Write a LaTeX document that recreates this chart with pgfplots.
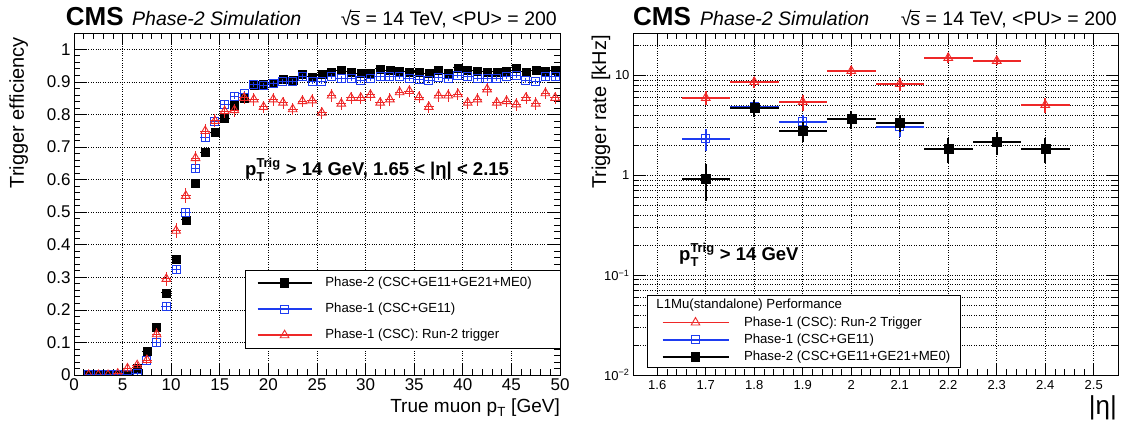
\documentclass[border=0pt]{standalone}
\usepackage{pgfplots}
\pgfplotsset{compat=1.18}
\usepackage{pgfplotstable}
\usepackage{amsmath}
\usepackage{fontspec}
\setmainfont{Liberation Sans}
\definecolor{rootred}{RGB}{238,40,40}
\definecolor{rootblue}{RGB}{30,60,240}
\newcommand\fs[1]{\fontsize{#1}{#1}\selectfont}
\newcommand\sqrts{√\kern-0.06em\rlap{\rule[0.70em]{0.5em}{0.06em}}s}

% efficiency vs true pT (1 GeV bins)
\pgfplotstableread{
x    y      ex   ey
1.5  0      0.5  0
2.5  0      0.5  0
3.5  0      0.5  0
4.5  0      0.5  0
5.5  0.003  0.5  0.003
6.5  0.022  0.5  0.006
7.5  0.073  0.5  0.010
8.5  0.148  0.5  0.012
9.5  0.252  0.5  0.013
10.5 0.355  0.5  0.014
11.5 0.476  0.5  0.014
12.5 0.589  0.5  0.014
13.5 0.683  0.5  0.013
14.5 0.744  0.5  0.012
15.5 0.788  0.5  0.011
16.5 0.829  0.5  0.010
17.5 0.851  0.5  0.010
18.5 0.890  0.5  0.009
19.5 0.892  0.5  0.009
20.5 0.897  0.5  0.009
21.5 0.909  0.5  0.008
22.5 0.905  0.5  0.008
23.5 0.922  0.5  0.008
24.5 0.915  0.5  0.008
25.5 0.922  0.5  0.008
26.5 0.931  0.5  0.008
27.5 0.935  0.5  0.008
28.5 0.931  0.5  0.008
29.5 0.926  0.5  0.008
30.5 0.928  0.5  0.008
31.5 0.940  0.5  0.008
32.5 0.936  0.5  0.008
33.5 0.933  0.5  0.008
34.5 0.931  0.5  0.008
35.5 0.931  0.5  0.008
36.5 0.926  0.5  0.008
37.5 0.936  0.5  0.008
38.5 0.926  0.5  0.008
39.5 0.943  0.5  0.008
40.5 0.936  0.5  0.008
41.5 0.933  0.5  0.008
42.5 0.931  0.5  0.008
43.5 0.931  0.5  0.008
44.5 0.933  0.5  0.008
45.5 0.943  0.5  0.008
46.5 0.931  0.5  0.008
47.5 0.935  0.5  0.008
48.5 0.933  0.5  0.008
49.5 0.936  0.5  0.008
}\effPhaseTwo

\pgfplotstableread{
x    y      ex   ey
1.5  0      0.5  0
2.5  0      0.5  0
3.5  0      0.5  0
4.5  0      0.5  0
5.5  0.002  0.5  0.002
6.5  0.005  0.5  0.004
7.5  0.043  0.5  0.008
8.5  0.100  0.5  0.010
9.5  0.209  0.5  0.012
10.5 0.324  0.5  0.013
11.5 0.499  0.5  0.014
12.5 0.635  0.5  0.013
13.5 0.729  0.5  0.012
14.5 0.778  0.5  0.011
15.5 0.831  0.5  0.010
16.5 0.856  0.5  0.010
17.5 0.863  0.5  0.009
18.5 0.892  0.5  0.009
19.5 0.889  0.5  0.009
20.5 0.895  0.5  0.008
21.5 0.900  0.5  0.008
22.5 0.902  0.5  0.008
23.5 0.915  0.5  0.008
24.5 0.902  0.5  0.008
25.5 0.900  0.5  0.008
26.5 0.917  0.5  0.008
27.5 0.909  0.5  0.008
28.5 0.911  0.5  0.008
29.5 0.904  0.5  0.008
30.5 0.911  0.5  0.008
31.5 0.915  0.5  0.008
32.5 0.915  0.5  0.008
33.5 0.917  0.5  0.008
34.5 0.911  0.5  0.008
35.5 0.906  0.5  0.008
36.5 0.904  0.5  0.008
37.5 0.913  0.5  0.008
38.5 0.911  0.5  0.008
39.5 0.919  0.5  0.008
40.5 0.915  0.5  0.008
41.5 0.911  0.5  0.008
42.5 0.911  0.5  0.008
43.5 0.911  0.5  0.008
44.5 0.917  0.5  0.008
45.5 0.919  0.5  0.008
46.5 0.904  0.5  0.008
47.5 0.902  0.5  0.008
48.5 0.915  0.5  0.008
49.5 0.915  0.5  0.008
}\effPhaseOneGE

\pgfplotstableread{
x    y      ex   ey
1.5  0      0.5  0
2.5  0      0.5  0
3.5  0      0.5  0
4.5  0.004  0.5  0.004
5.5  0.020  0.5  0.010
6.5  0.030  0.5  0.010
7.5  0.046  0.5  0.012
8.5  0.125  0.5  0.018
9.5  0.295  0.5  0.022
10.5 0.443  0.5  0.023
11.5 0.550  0.5  0.023
12.5 0.666  0.5  0.022
13.5 0.749  0.5  0.021
14.5 0.780  0.5  0.020
15.5 0.810  0.5  0.020
16.5 0.813  0.5  0.020
17.5 0.851  0.5  0.019
18.5 0.846  0.5  0.019
19.5 0.823  0.5  0.019
20.5 0.846  0.5  0.019
21.5 0.836  0.5  0.019
22.5 0.816  0.5  0.019
23.5 0.841  0.5  0.019
24.5 0.843  0.5  0.019
25.5 0.805  0.5  0.019
26.5 0.858  0.5  0.019
27.5 0.833  0.5  0.019
28.5 0.851  0.5  0.019
29.5 0.851  0.5  0.019
30.5 0.860  0.5  0.019
31.5 0.836  0.5  0.019
32.5 0.846  0.5  0.019
33.5 0.868  0.5  0.019
34.5 0.872  0.5  0.019
35.5 0.853  0.5  0.019
36.5 0.823  0.5  0.019
37.5 0.858  0.5  0.019
38.5 0.858  0.5  0.019
39.5 0.862  0.5  0.019
40.5 0.836  0.5  0.019
41.5 0.846  0.5  0.019
42.5 0.877  0.5  0.019
43.5 0.836  0.5  0.019
44.5 0.841  0.5  0.019
45.5 0.831  0.5  0.019
46.5 0.851  0.5  0.019
47.5 0.833  0.5  0.019
48.5 0.865  0.5  0.019
49.5 0.851  0.5  0.019
}\effPhaseOneCSC

% trigger rate vs |eta| (kHz)
\pgfplotstableread{
x    y     ex    ey
1.7  5.96  0.05  0.95
1.8  8.60  0.05  1.05
1.9  5.43  0.05  1.00
2.0  11.1  0.05  1.25
2.1  8.20  0.05  1.15
2.2  15.0  0.05  1.60
2.3  14.0  0.05  1.30
2.4  5.07  0.05  0.85
}\rateRunTwo

\pgfplotstableread{
x    y     ex    ey
1.7  2.32  0.05  0.56
1.8  4.84  0.05  0.85
1.9  3.43  0.05  0.60
2.0  3.67  0.05  0.70
2.1  3.05  0.05  0.65
}\ratePhaseOneGE

\pgfplotstableread{
x    y     ex    ey
1.7  0.92  0.05  0.37
1.8  4.73  0.05  0.90
1.9  2.79  0.05  0.62
2.0  3.67  0.05  0.75
2.1  3.35  0.05  0.65
2.2  1.84  0.05  0.52
2.3  2.16  0.05  0.57
2.4  1.84  0.05  0.52
}\ratePhaseTwo

\pgfplotsset{
  rootaxis/.style={
    scale only axis,
    clip marker paths=true,
    axis line style={line width=0.9pt},
    every tick/.style={black, line width=0.7pt},
    major tick length=12pt,
    minor tick length=6pt,
    grid style={dotted, black, line width=0.7pt},
    /pgf/number format/assume math mode=true,
    legend cell align=left,
  },
  errpts/.style={
    only marks, forget plot,
    error bars/.cd, x dir=both, x explicit, y dir=both, y explicit,
    error mark=none,
  },
}

\begin{document}
\begin{tikzpicture}
\useasboundingbox (0,0) rectangle (1126pt,425pt);

% ---------------- left: efficiency ----------------
\begin{axis}[rootaxis,
  at={(74pt,50pt)}, anchor=south west,
  width=486pt, height=342pt,
  xmin=0, xmax=50, ymin=0, ymax=1.05,
  xtick={0,5,10,15,20,25,30,35,40,45,50},
  ytick={0,0.1,0.2,0.3,0.4,0.5,0.6,0.7,0.8,0.9,1},
  minor x tick num=4, minor y tick num=4,
  xmajorgrids, ymajorgrids,
  ticklabel style={font=\fs{17}},
  legend style={at={(0.351,0.307)}, anchor=north west,
    draw=black, fill=white, font=\fs{13.2},
    inner xsep=12pt, inner ysep=6.5pt, row sep=13pt, column sep=13pt,
    nodes={inner sep=0pt, text height=10pt, text depth=3pt}},
  legend image code/.code={\draw[mark repeat=2, mark phase=2, #1]
    plot coordinates {(0pt,0pt) (27pt,0pt) (54pt,0pt)};},
]
\addplot[black, mark=square*, mark size=4pt, errpts,
  error bar style={line width=1pt}]
  table[x=x, y=y, x error=ex, y error=ey] {\effPhaseTwo};
\addplot[rootblue, mark=square, mark size=4pt, mark options={fill=white, line width=1pt}, errpts,
  error bar style={line width=1pt}]
  table[x=x, y=y, x error=ex, y error=ey] {\effPhaseOneGE};
\addplot[rootred, mark=triangle, mark size=5pt, mark options={fill=white, line width=0.9pt}, errpts,
  error bar style={line width=0.9pt}]
  table[x=x, y=y, x error=ex, y error=ey] {\effPhaseOneCSC};

\addlegendimage{black, line width=1.6pt, mark=square*, mark size=4pt, mark options={solid}}
\addlegendentry{\makebox[223pt][l]{Phase-2 (CSC+GE11+GE21+ME0)}}
\addlegendimage{rootblue, line width=1.6pt, mark=square, mark size=4pt, mark options={solid, fill=white, line width=1pt}}
\addlegendentry{\makebox[223pt][l]{Phase-1 (CSC+GE11)}}
\addlegendimage{rootred, line width=1.6pt, mark=triangle, mark size=5pt, mark options={solid, fill=white, line width=0.9pt}}
\addlegendentry{\makebox[223pt][l]{Phase-1 (CSC): Run-2 trigger}}
\end{axis}

% ---------------- right: rate ----------------
\begin{axis}[rootaxis, ymode=log,
  at={(633pt,50pt)}, anchor=south west,
  width=485pt, height=342pt,
  xmin=1.55, xmax=2.55, ymin=0.01, ymax=26.6,
  xtick={1.6,1.7,1.8,1.9,2,2.1,2.2,2.3,2.4,2.5},
  xticklabels={1.6,1.7,1.8,1.9,2,2.1,2.2,2.3,2.4,2.5},
  minor x tick num=4,
  ytick={0.01,0.1,1,10},
  yticklabels={10\textsuperscript{−2},10\textsuperscript{−1},1,10},
  minor ytick={0.02,0.03,0.04,0.05,0.06,0.07,0.08,0.09,0.2,0.3,0.4,0.5,0.6,0.7,0.8,0.9,2,3,4,5,6,7,8,9,20},
  xmajorgrids, ymajorgrids, yminorgrids,
  ticklabel style={font=\fs{13}},
  xticklabel style={yshift=-2pt},
  legend style={at={(0.0297,0.2333)}, anchor=north west,
    draw=black, fill=white, font=\fs{13.2},
    inner xsep=10pt, inner ysep=3.5pt, row sep=4.1pt, column sep=14.6pt,
    nodes={inner sep=0pt, text height=10pt, text depth=3pt}},
  legend image code/.code={\path (0pt,0pt); \draw[mark repeat=2, mark phase=2, #1]
    plot coordinates {(4pt,0pt) (37pt,0pt) (70pt,0pt)};},
]
\addplot[rootred, mark=triangle, mark size=5pt, mark options={fill=white, line width=0.9pt}, errpts,
  error bar style={line width=1.8pt}]
  table[x=x, y=y, x error=ex, y error=ey] {\rateRunTwo};
\addplot[rootblue, mark=square, mark size=4pt, mark options={fill=white, line width=1pt}, errpts,
  error bar style={line width=1.8pt}]
  table[x=x, y=y, x error=ex, y error=ey] {\ratePhaseOneGE};
\addplot[black, mark=square*, mark size=4.5pt, errpts,
  error bar style={line width=1.8pt}]
  table[x=x, y=y, x error=ex, y error=ey] {\ratePhaseTwo};

\addlegendimage{empty legend}
\addlegendentry{\makebox[206pt][l]{\hspace*{-87.6pt}L1Mu(standalone) Performance}}
\addlegendimage{rootred, line width=1.8pt, mark=triangle, mark size=5pt, mark options={solid, fill=white, line width=0.9pt}}
\addlegendentry{\makebox[206pt][l]{Phase-1 (CSC): Run-2 Trigger}}
\addlegendimage{rootblue, line width=1.8pt, mark=square, mark size=4pt, mark options={solid, fill=white, line width=1pt}}
\addlegendentry{\makebox[206pt][l]{Phase-1 (CSC+GE11)}}
\addlegendimage{black, line width=1.8pt, mark=square*, mark size=4pt, mark options={solid}}
\addlegendentry{\makebox[206pt][l]{Phase-2 (CSC+GE11+GE21+ME0)}}
\end{axis}

% ---------------- titles and labels ----------------
\node[anchor=base west, inner sep=0] at (65.7pt,399.3pt) {\fs{26}\bfseries CMS};
\node[anchor=base west, inner sep=0] at (132pt,399.3pt) {\fs{19.5}\itshape Phase-2 Simulation};
\node[anchor=base east, inner sep=0] at (557pt,399.3pt) {\fs{19.5}\sqrts{} = 14 TeV, <PU> = 200};
\node[anchor=base west, inner sep=0] at (633pt,399.3pt) {\fs{26}\bfseries CMS};
\node[anchor=base west, inner sep=0] at (700pt,399.3pt) {\fs{19.5}\itshape Phase-2 Simulation};
\node[anchor=base east, inner sep=0] at (1117pt,399.3pt) {\fs{19.5}\sqrts{} = 14 TeV, <PU> = 200};

\node[rotate=90, anchor=base east, inner sep=0] at (24pt,388pt) {\fs{20}Trigger efficiency};
\node[rotate=90, anchor=base east, inner sep=0] at (606pt,390pt) {\fs{20}Trigger rate [kHz]};
\node[anchor=base east, inner sep=0] at (560pt,12pt) {\fs{19}True muon p\textsubscript{T} [GeV]};
\node[anchor=base east, inner sep=0] at (1117pt,10pt) {\fs{26}|η|};

\node[anchor=base west, inner sep=0] at (245pt,249pt)
  {\fs{18.5}\bfseries p$^{\text{Trig}}_{\text{T}}$ > 14 GeV, 1.65 < |η| < 2.15};
\node[anchor=base west, inner sep=0] at (679pt,164pt)
  {\fs{18.5}\bfseries p$^{\text{Trig}}_{\text{T}}$ > 14 GeV};
\end{tikzpicture}
\end{document}
